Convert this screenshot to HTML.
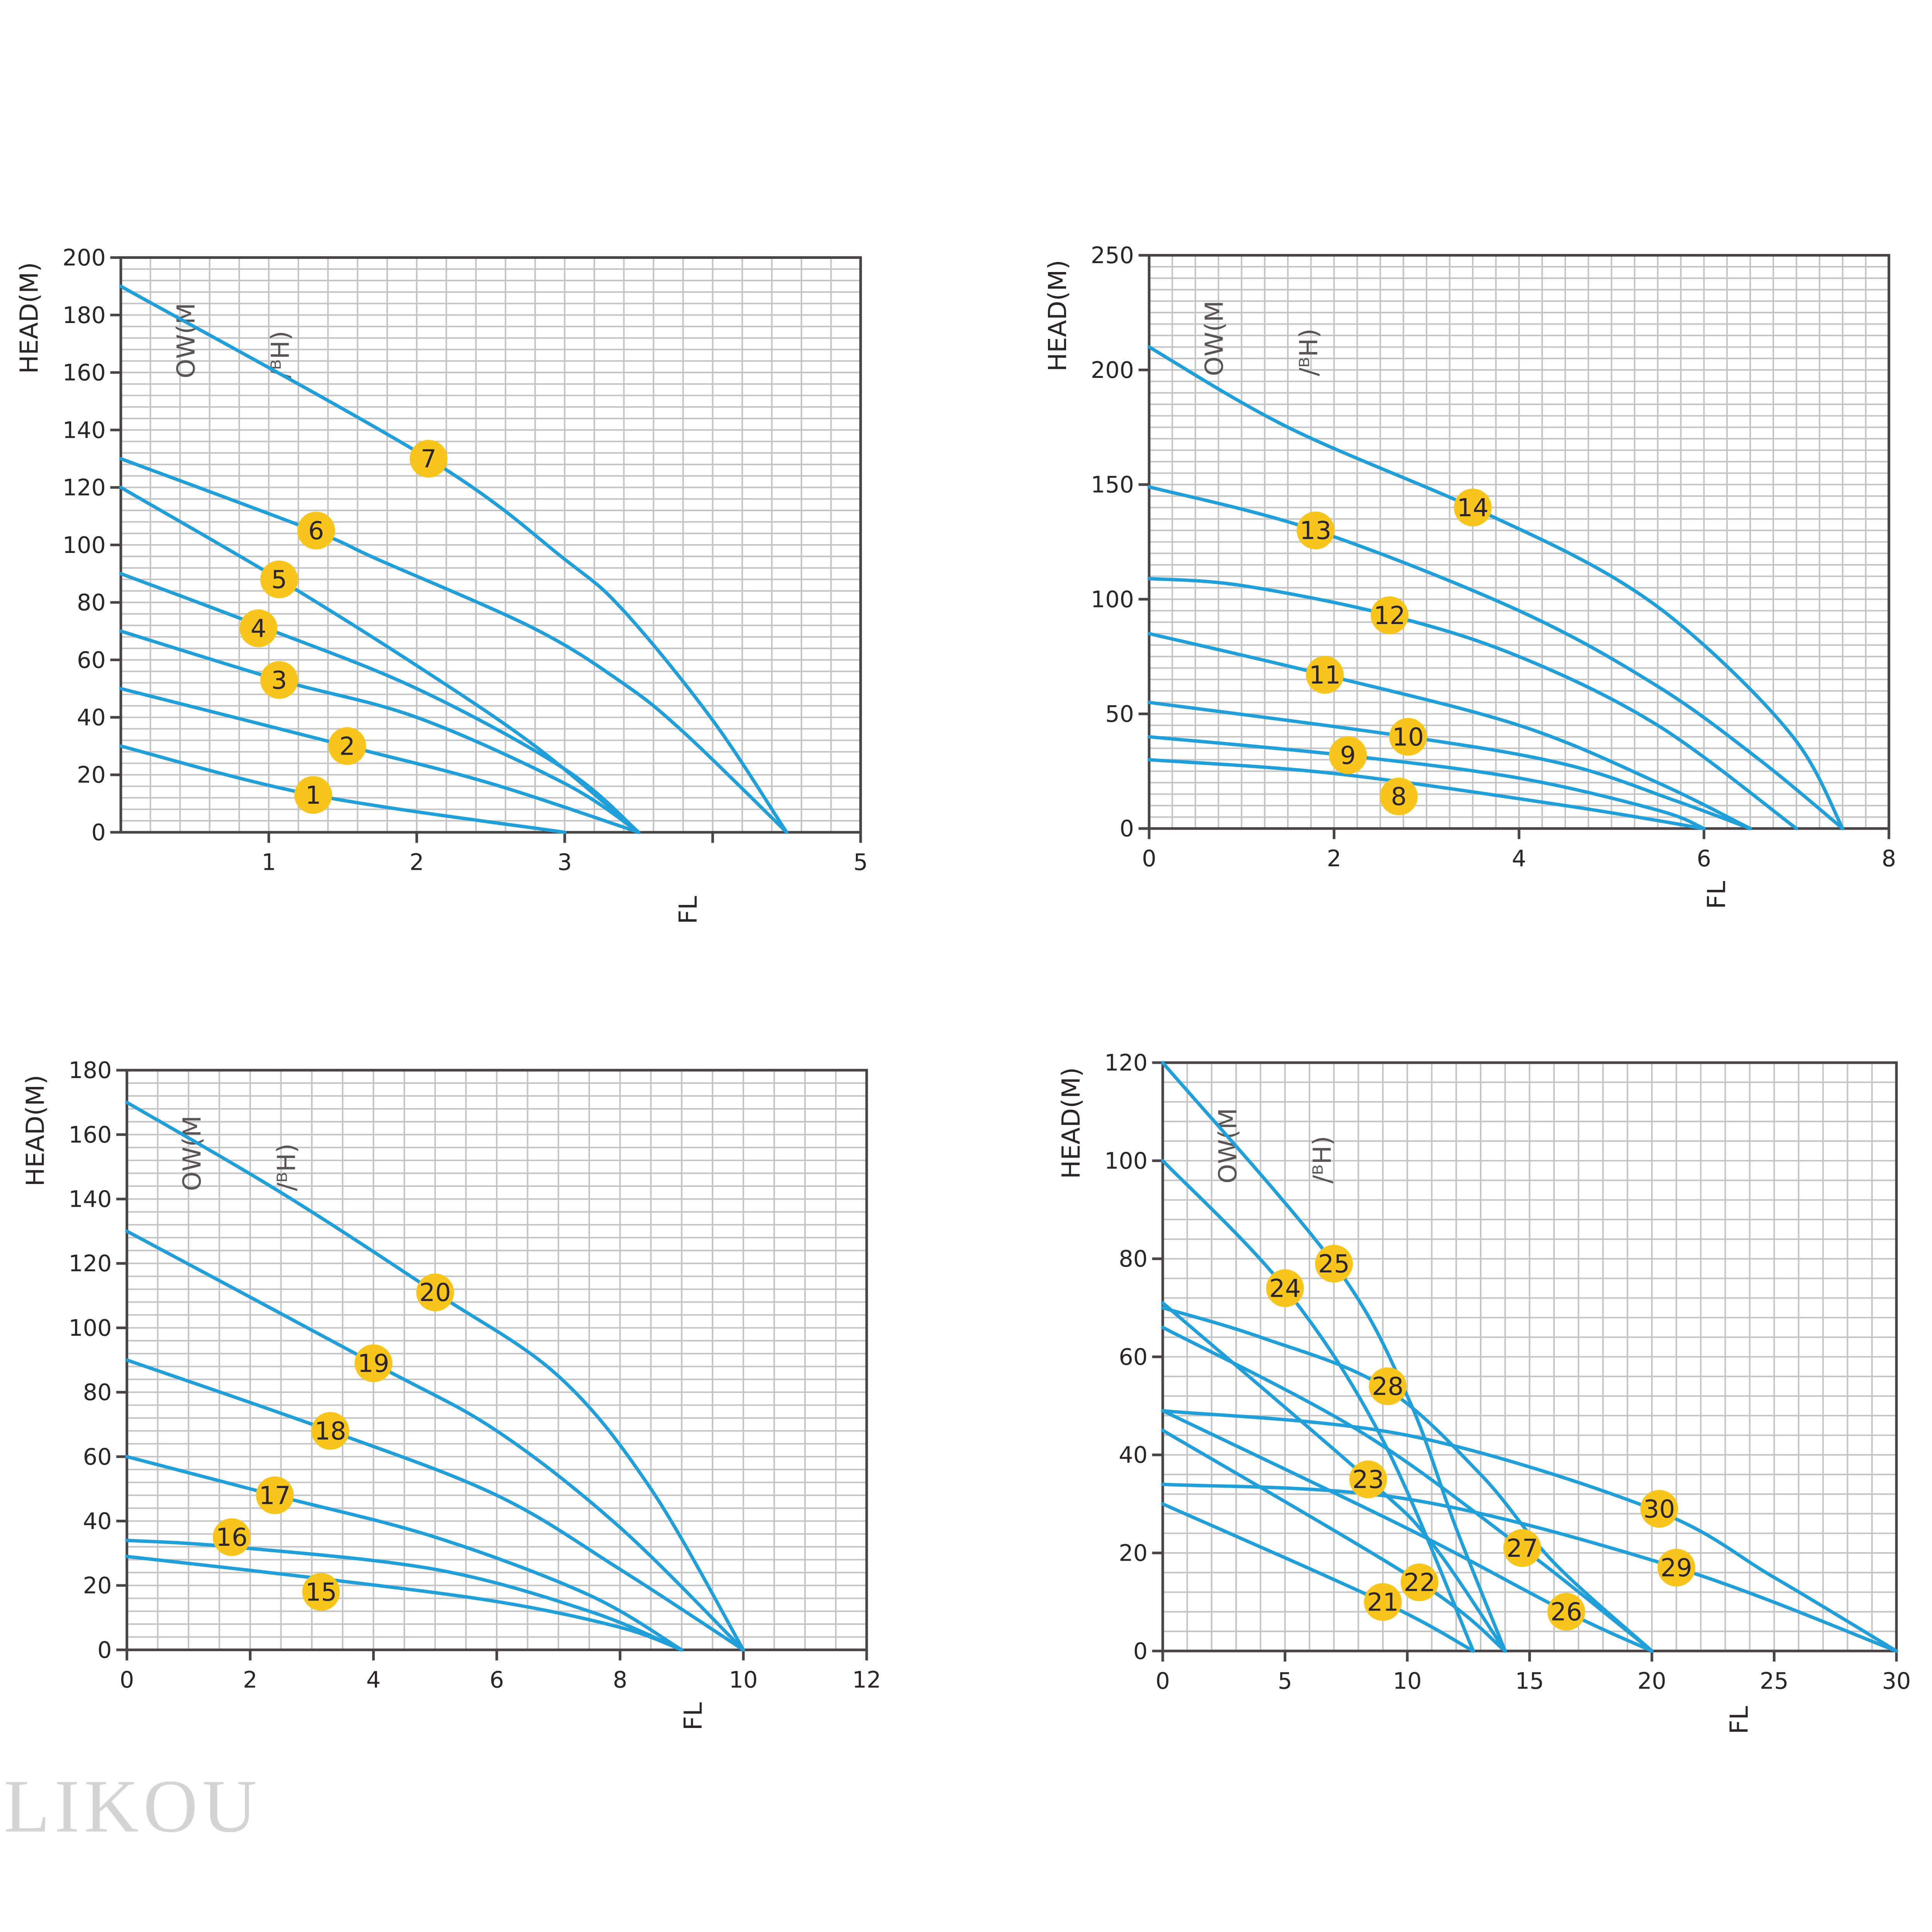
<!DOCTYPE html>
<html><head><meta charset="utf-8"><style>
html,body{margin:0;padding:0;background:#fff;width:5120px;height:5120px;overflow:hidden}
svg{display:block;position:absolute;left:0;top:0;overflow:hidden}
text{font-family:"DejaVu Sans","Liberation Sans",sans-serif}
</style></head><body>
<svg width="5120" height="5120" viewBox="0 0 5120 5120" xmlns="http://www.w3.org/2000/svg">
<g id="s" transform="scale(0.9773)">
<text x="10" y="4850" font-size="200" fill="#d4d4d4" letter-spacing="12" style="font-family:'Liberation Serif',serif">LIKOU</text>
</g>
</svg>
<script>
// ---- Chart 1 data ----
const c1XTicks=[1,2,3,4,5];
const c1XTickLabels=["1","2","3","","5"];
const c1YTicks=[0,20,40,60,80,100,120,140,160,180,200];
const c1Names=["1","2","3","4","5","6","7"];
const c1Flow=[[0,1.3,3],[0,1.53,2.5,3.5],[0,1.07,2,3,3.5],[0,0.93,2,3,3.5],[0,1.07,2,2.8,3.5],[0,1.3,1.735,2.79,3.39,3.8,4.5],[0,2.08,3,3.4,4,4.5]];
const c1Head=[[30,13,0],[50,30,17,0],[70,53,40,17,0],[90,72,50,22,0],[120,88,58,30,0],[130,105,95,71,52,35,0],[190,130,95,77,39,0]];
const c1LabelX=[1.3,1.53,1.07,0.93,1.07,1.32,2.08];
const c1LabelY=[13,30,53,71,88,105,130];
// ---- Chart 2 data ----
const c2XTicks=[0,2,4,6,8];
const c2XTickLabels=["0","2","4","6","8"];
const c2YTicks=[0,50,100,150,200,250];
const c2Names=["8","9","10","11","12","13","14"];
const c2Flow=[[0,2,4.5,6],[0,2.1,4,5.5,6],[0,2.8,4.5,5.7,6.5],[0,1.9,4,5.5,6.5],[0,1,2.6,4,5.5,7],[0,1.8,4,5.5,6.6,7.5],[0,1.5,3.5,5,6,7,7.5]];
const c2Head=[[30,24,10,0],[40,32,22,8,0],[55,40,28,12,0],[85,67,45,20,0],[109,106,93,75,45,0],[149,130,95,62,30,0],[210,175,140,110,80,38,0]];
const c2LabelX=[2.7,2.15,2.8,1.9,2.6,1.8,3.5];
const c2LabelY=[14,32,40,67,93,130,140];
// ---- Chart 3 data ----
const c3XTicks=[0,2,4,6,8,10,12];
const c3XTickLabels=["0","2","4","6","8","10","12"];
const c3YTicks=[0,20,40,60,80,100,120,140,160,180];
const c3Names=["15","16","17","18","19","20"];
const c3Flow=[[0,3.2,6,8,9],[0,1.7,5,7.5,9],[0,2.4,5,7.5,9],[0,3.3,6,8,10],[0,4,6,8,10],[0,2.5,5,7,8.5,10]];
const c3Head=[[29,22,15,7,0],[34,32,25,12,0],[60,48,35,17,0],[90,68,48,25,0],[130,89,68,38,0],[170,142,111,85,50,0]];
const c3LabelX=[3.15,1.7,2.4,3.3,4,5];
const c3LabelY=[18,35,48,68,89,111];
// ---- Chart 4 data ----
const c4XTicks=[0,5,10,15,20,25,30];
const c4XTickLabels=["0","5","10","15","20","25","30"];
const c4YTicks=[0,20,40,60,80,100,120];
const c4Names=["21","22","23","24","25","26","27","28","29","30"];
const c4Flow=[[0,9,12.7],[0,10.5,14],[0,8.4,11,14],[0,5,9,12.7],[0,7,10,12,14],[0,10,16.5,20],[0,8,14.7,20],[0,4,9,13,16,20],[0,10,21,30],[0,10,20,25,30]];
const c4Head=[[30,10,0],[45,14,0],[71,35,22,0],[100,74,43,0],[120,79,52,25,0],[49,25,8,0],[66,45,21,0],[70,64,54,36,18,0],[34,31,17,0],[49,44,29,15,0]];
const c4LabelX=[9,10.5,8.4,5,7,16.5,14.7,9.2,21,20.3];
const c4LabelY=[10,14,35,74,79,8,21,54,17,29];

const NS="http://www.w3.org/2000/svg";
const svg=document.getElementById('s');
function mk(tag,attrs,parent){const e=document.createElementNS(NS,tag);for(const k in attrs)e.setAttribute(k,attrs[k]);(parent||svg).appendChild(e);return e;}
function smooth(pts){let d="M"+pts[0][0]+","+pts[0][1];for(let i=0;i<pts.length-1;i++){const p0=pts[i-1]||pts[i],p1=pts[i],p2=pts[i+1],p3=pts[i+2]||p2;const c1x=p1[0]+(p2[0]-p0[0])/6,c1y=p1[1]+(p2[1]-p0[1])/6,c2x=p2[0]-(p3[0]-p1[0])/6,c2y=p2[1]-(p3[1]-p1[1])/6;d+=" C"+c1x+","+c1y+" "+c2x+","+c2y+" "+p2[0]+","+p2[1];}return d;}

function chart(id,cfg,xTicks,xTickLabels,yTicks,names,flows,heads,lx,ly){
  const g=mk('g',{});
  
  
  const X=v=>cfg.L+(v/cfg.xmax)*(cfg.R-cfg.L);
  const Y=v=>cfg.B-(v/cfg.ymax)*(cfg.B-cfg.T);
  const grid=mk('g',{stroke:'#c4c4c4','stroke-width':4},g);
  
  
  for(let i=1;i<cfg.cols;i++){const x=cfg.L+i*(cfg.R-cfg.L)/cfg.cols;mk('line',{x1:x,x2:x,y1:cfg.T,y2:cfg.B},grid);}
  for(let i=1;i<cfg.rows;i++){const y=cfg.T+i*(cfg.B-cfg.T)/cfg.rows;mk('line',{x1:cfg.L,x2:cfg.R,y1:y,y2:y},grid);}
  const frame=mk('rect',{x:cfg.L,y:cfg.T,width:cfg.R-cfg.L,height:cfg.B-cfg.T,fill:'none',stroke:'#4a4446','stroke-width':7},g);
  
  
  yTicks.forEach(v=>{const y=Y(v);
    mk('line',{x1:cfg.L-28,x2:cfg.L,y1:y,y2:y,stroke:'#4a4446','stroke-width':7},g);
    const t=mk('text',{x:cfg.L-40,y:y+21,'text-anchor':'end','font-size':60,fill:'#2b2527'},g);t.textContent=v;
    
    });
  xTicks.forEach((v,i)=>{const x=X(v);
    mk('line',{x1:x,x2:x,y1:cfg.B,y2:cfg.B+28,stroke:'#4a4446','stroke-width':7},g);
    const t=mk('text',{x:x,y:cfg.B+100,'text-anchor':'middle','font-size':60,fill:'#2b2527'},g);t.textContent=xTickLabels[i];
    
    });
  const yt=mk('text',{transform:`translate(${cfg.L-220},${cfg.T+160}) rotate(-90)`,'text-anchor':'middle','font-size':66,fill:'#2b2527'},g);yt.textContent="HEAD(M)";
  
  
  const xt=mk('text',{transform:`translate(${cfg.fx},${cfg.fy}) rotate(-90)`,'text-anchor':'middle','font-size':66,fill:'#2b2527'},g);xt.textContent="FL";
  
  
  const o=mk('text',{transform:`translate(${cfg.L+195},${cfg.T+320}) rotate(-90)`,'font-size':66,fill:'#5a5456'},g);o.textContent="OW(M";
  
  
  const o2=mk('text',{transform:`translate(${cfg.L+445},${cfg.T+320}) rotate(-90)`,'font-size':66,fill:'#5a5456'},g);o2.textContent="/ᴮH)";
  
  
  flows.forEach((f,i)=>{const pts=f.map((v,j)=>[X(v),Y(heads[i][j])]);
    const p=mk('path',{d:smooth(pts),fill:'none',stroke:'#219fd9','stroke-width':9,'stroke-linecap':'round'},g);
    
    });
  names.forEach((n,i)=>{
    const c=mk('circle',{cx:X(lx[i]),cy:Y(ly[i]),r:50,fill:'#f7c51c'},g);
    
    
    const t=mk('text',{x:X(lx[i]),y:Y(ly[i])+23,'text-anchor':'middle','font-size':66,fill:'#2b2527'},g);t.textContent=n;
    
    });
}
chart('chart-1',{L:320,R:2279,T:682,B:2204,xmax:5,ymax:200,cols:25,rows:50,fx:1845,fy:2410},c1XTicks,c1XTickLabels,c1YTicks,c1Names,c1Flow,c1Head,c1LabelX,c1LabelY);
chart('chart-2',{L:3043,R:5002,T:676,B:2194,xmax:8,ymax:250,cols:32,rows:50,fx:4568,fy:2370},c2XTicks,c2XTickLabels,c2YTicks,c2Names,c2Flow,c2Head,c2LabelX,c2LabelY);
chart('chart-3',{L:336,R:2295,T:2834,B:4369,xmax:12,ymax:180,cols:24,rows:45,fx:1858,fy:4545},c3XTicks,c3XTickLabels,c3YTicks,c3Names,c3Flow,c3Head,c3LabelX,c3LabelY);
chart('chart-4',{L:3079,R:5022,T:2814,B:4372,xmax:30,ymax:120,cols:30,rows:30,fx:4628,fy:4555},c4XTicks,c4XTickLabels,c4YTicks,c4Names,c4Flow,c4Head,c4LabelX,c4LabelY);
</script>
</body></html>
